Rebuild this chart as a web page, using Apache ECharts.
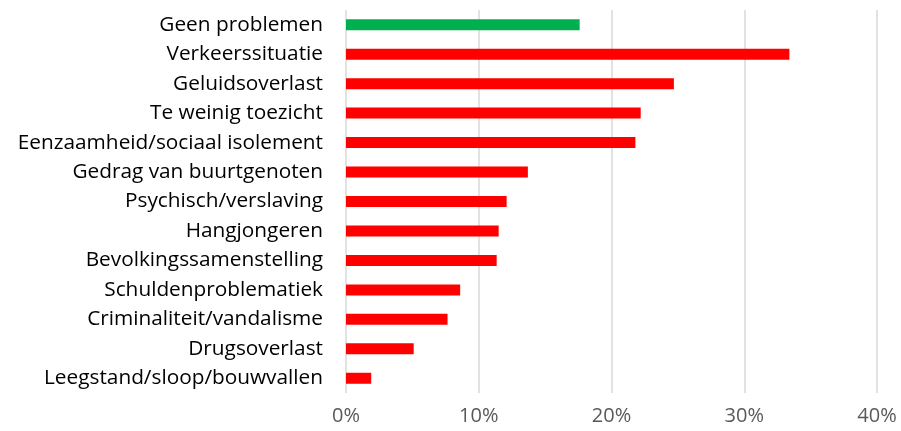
<!DOCTYPE html>
<html>
<head>
<meta charset="utf-8">
<script src="https://cdn.jsdelivr.net/npm/echarts@6/dist/echarts.min.js"></script>
<style>html,body{margin:0;padding:0;background:#fff;}#c{width:901px;height:431px;}</style>
</head>
<body>
<div id="c"></div>
<script>
const categories = ["Geen problemen","Verkeerssituatie","Geluidsoverlast","Te weinig toezicht","Eenzaamheid/sociaal isolement","Gedrag van buurtgenoten","Psychisch/verslaving","Hangjongeren","Bevolkingssamenstelling","Schuldenproblematiek","Criminaliteit/vandalisme","Drugsoverlast","Leegstand/sloop/bouwvallen"];
const values = [17.6, 33.4, 24.7, 22.2, 21.8, 13.7, 12.1, 11.5, 11.35, 8.6, 7.65, 5.1, 1.9];
const barColors = ["#00b050","#ff0000","#ff0000","#ff0000","#ff0000","#ff0000","#ff0000","#ff0000","#ff0000","#ff0000","#ff0000","#ff0000","#ff0000"];
const xTicks = [0, 10, 20, 30, 40];

const chart = echarts.init(document.getElementById('c'), null, {renderer:'canvas'});
chart.setOption({
  animation: false,
  grid: {left: 346, right: 24, top: 10, bottom: 38, containLabel: false},
  xAxis: {
    type: 'value', min: xTicks[0], max: xTicks[xTicks.length-1], interval: 10,
    axisLine: {show: false}, axisTick: {show: false},
    splitLine: {show: true, lineStyle: {color: '#d9d9d9', width: 1.5}},
    axisLabel: {formatter: v => v + '%', color: '#595959', fontFamily: 'Open Sans', fontSize: 20, margin: 13}
  },
  yAxis: {
    type: 'category', inverse: true, data: categories,
    axisLine: {show: false}, axisTick: {show: false},
    axisLabel: {color: '#000', fontFamily: 'Open Sans', fontSize: 20.8, margin: 23}
  },
  series: [{
    type: 'bar', barWidth: 11,
    data: values.map((v, i) => ({value: v, itemStyle: {color: barColors[i]}}))
  }]
});
</script>
</body>
</html>
